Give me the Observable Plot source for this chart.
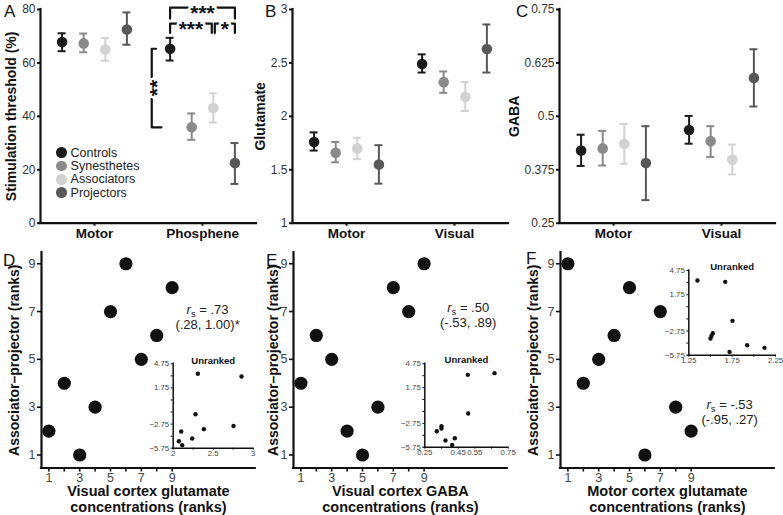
<!DOCTYPE html>
<html><head><meta charset="utf-8">
<script src="https://cdn.jsdelivr.net/npm/d3@7"></script>
<script src="https://cdn.jsdelivr.net/npm/@observablehq/plot@0.6"></script>
<style>
body{margin:0;background:#fff;}
#fig{position:relative;width:783px;height:515px;overflow:hidden;font-family:"Liberation Sans",Arial,sans-serif;background:#fff;}
#fig svg{position:absolute;overflow:visible;}
.letter{position:absolute;font-size:17px;line-height:1;color:#111;}
.legend{position:absolute;left:56px;top:146px;font-size:12.5px;color:#222;}
.legend .row{height:13.3px;display:flex;align-items:center;white-space:nowrap;}
.legend .sw{width:10.6px;height:10.6px;border-radius:50%;margin-right:4px;display:inline-block;}
</style></head><body><div id="fig"></div>
<script>
// ---------- data ----------
const groups = ["Controls", "Synesthetes", "Associators", "Projectors"];
const groupColors = ["#1b1b1b", "#8a8a8a", "#d2d2d2", "#585858"];
const groupOffsets = [-0.3, -0.1, 0.1, 0.3];

// Panel A: stimulation threshold (%), per group [mean, low, high]
const thrConditions = ["Motor", "Phosphene"];
const thrMotor = [[67.8, 64.4, 71.1], [67.3, 64.0, 71.0], [65.0, 60.8, 69.3], [72.5, 66.8, 78.9]];
const thrPhosphene = [[65.3, 60.9, 69.4], [35.9, 31.2, 41.1], [43.1, 37.7, 48.6], [22.5, 14.7, 30.0]];
const thrTicks = [0, 20, 40, 60, 80];

// Panel B: glutamate
const concConditions = ["Motor", "Visual"];
const gluMotor = [[1.76, 1.68, 1.85], [1.66, 1.57, 1.76], [1.70, 1.60, 1.80], [1.55, 1.37, 1.73]];
const gluVisual = [[2.49, 2.41, 2.58], [2.32, 2.22, 2.42], [2.18, 2.05, 2.32], [2.63, 2.41, 2.86]];
const gluTicks = [1, 1.5, 2, 2.5, 3];

// Panel C: GABA
const gabaMotor = [[0.420, 0.384, 0.457], [0.425, 0.385, 0.466], [0.436, 0.389, 0.482], [0.391, 0.304, 0.477]];
const gabaVisual = [[0.468, 0.436, 0.501], [0.442, 0.405, 0.477], [0.399, 0.364, 0.434], [0.590, 0.523, 0.657]];
const gabaTicks = [0.25, 0.375, 0.5, 0.625, 0.75];

// significance annotations (Phosphene)
const sigPairs = [["Controls", "Projectors"], ["Controls", "Associators"], ["Associators", "Projectors"]];
const sigStars = ["***", "***", "*"];
const sigVerticalPair = ["Controls", "Synesthetes"];
const sigVerticalStars = "**";

// Panels D-F: ranks
const rankTicks = [1, 2, 3, 4, 5, 6, 7, 8, 9];
const rankLabeled = [1, 3, 5, 7, 9];
const rankX = [1, 2, 3, 4, 5, 6, 7, 8, 9];
const apRankD = [2, 4, 1, 3, 7, 9, 5, 6, 8];
const apRankE = [4, 6, 5, 2, 1, 3, 8, 7, 9];
const apRankF = [9, 4, 5, 6, 8, 1, 7, 3, 2];
const statD = "rs = .73\n(.28, 1.00)*";
const statE = "rs = .50\n(-.53, .89)";
const statF = "rs = -.53\n(-.95, .27)";

// insets (unranked)
const insetYTicks = [-5.75, -4.25, -2.75, -1.25, 0.25, 1.75, 3.25, 4.75];
const insetYLabeled = [4.75, 1.75, -2.75, -5.75];
const inDx = [2.308, 2.854, 2.279, 2.1, 2.383, 2.754, 2.2375, 2.071, 2.1125];
const inDy = [3.51, 3.17, -1.52, -3.67, -3.38, -2.99, -4.54, -4.88, -5.37];
const inDxTicks = [2, 2.25, 2.5, 2.75, 3], inDxLabeled = [2, 2.5, 3];
const inEx = [0.508, 0.668, 0.51, 0.35, 0.35, 0.322, 0.43, 0.374, 0.414];
const inEy = [3.36, 3.57, -1.51, -3.11, -3.4, -3.74, -4.62, -4.91, -5.46];
const inExTicks = [0.25, 0.35, 0.45, 0.55, 0.65, 0.75], inExLabeled = [0.25, 0.45, 0.55, 0.75];
const inFx = [1.35, 1.67, 1.754, 1.527, 1.512, 1.50, 1.72, 1.923, 2.123];
const inFy = [3.51, 3.34, -1.49, -3.02, -3.35, -3.68, -5.34, -4.51, -4.84];
const inFxTicks = [1.25, 1.5, 1.75, 2, 2.25], inFxLabeled = [1.25, 1.75, 2.25];

// ---------- helpers ----------
const FONT = "Liberation Sans, Arial, sans-serif";
const INK = "#111";
const fig = document.getElementById("fig");
function place(svg, left, top) {
  svg.style.left = left + "px"; svg.style.top = top + "px";
  fig.append(svg);
}
const fmtNum = d => d < 0 ? "\u2212" + Math.abs(d) : String(d);
const yTitle = (label, dx, size) => Plot.text([label], {frameAnchor: "left", rotate: -90, dx, textAnchor: "middle", lineAnchor: "middle", fontSize: size, fontWeight: "bold", fill: INK});

function groupPanel({conds, values, yDomain, yTicks, yLabel, labelX, width, marginLeft, extra = () => []}) {
  const plotW = 216;
  const xDomain = [-0.5, 1.5];
  const cap = 0.037;
  const rows = [];
  values.forEach((arr, ci) => arr.forEach((v, gi) =>
    rows.push({g: groups[gi], x: ci + groupOffsets[gi], mean: v[0], lo: v[1], hi: v[2]})));
  return Plot.plot({
    width, height: 250, marginLeft, marginRight: width - marginLeft - plotW, marginTop: 9, marginBottom: 27.3,
    style: {background: "transparent", overflow: "visible", fontFamily: FONT},
    x: {domain: xDomain, axis: null, label: null},
    y: {domain: yDomain, axis: null, label: null},
    color: {domain: groups, range: groupColors},
    marks: [
      Plot.ruleY([yDomain[0]], {x1: xDomain[0], x2: xDomain[1], stroke: INK, strokeWidth: 2.2, strokeLinecap: "square"}),
      Plot.ruleX([xDomain[0]], {y1: yDomain[0], y2: yDomain[1], stroke: INK, strokeWidth: 2.2, strokeLinecap: "square"}),
      Plot.axisY({ticks: yTicks, tickFormat: fmtNum, tickSize: 3, tickPadding: 2, fontSize: 12, stroke: INK, strokeWidth: 2, fill: "#333", label: null}),
      Plot.axisX({ticks: [0, 1], tickFormat: i => conds[i], tickSize: 3, tickPadding: 2, fontSize: 13.5, fontWeight: "bold", stroke: INK, strokeWidth: 2, fill: INK, label: null}),
      yTitle(yLabel, labelX - marginLeft, 14),
      Plot.ruleX(rows, {x: "x", y1: "lo", y2: "hi", stroke: "g", strokeWidth: 2}),
      Plot.ruleY(rows, {y: "lo", x1: d => d.x - cap, x2: d => d.x + cap, stroke: "g", strokeWidth: 2}),
      Plot.ruleY(rows, {y: "hi", x1: d => d.x - cap, x2: d => d.x + cap, stroke: "g", strokeWidth: 2}),
      Plot.dot(rows, {x: "x", y: "mean", r: 5.3, fill: "g"}),
      ...extra()
    ]
  });
}

function sigMarks() {
  const pos = g => 1 + groupOffsets[groups.indexOf(g)];
  const mean = g => thrPhosphene[groups.indexOf(g)][0];
  const levels = [80.7, 74.7, 74.7];
  const drops = [4.1, 3.5, 3.5];
  const gap = 0.014;
  const shared = (i, g) => sigPairs.some((p, j) => j !== i && levels[j] === levels[i] && p.includes(g));
  const pts = [], labels = [];
  sigPairs.forEach(([a, b], i) => {
    const x1 = pos(a) + (shared(i, a) ? gap : 0), x2 = pos(b) - (shared(i, b) ? gap : 0);
    pts.push({id: i, x: x1, y: levels[i] - drops[i]}, {id: i, x: x1, y: levels[i]},
             {id: i, x: x2, y: levels[i]}, {id: i, x: x2, y: levels[i] - drops[i]});
    labels.push({x: (x1 + x2) / 2, y: levels[i], t: sigStars[i]});
  });
  const [va, vb] = sigVerticalPair;
  const ya = mean(va), yb = mean(vb), xv = pos(va) - 0.17;
  pts.push({id: 9, x: xv + 0.04, y: ya}, {id: 9, x: xv, y: ya}, {id: 9, x: xv, y: yb}, {id: 9, x: xv + 0.09, y: yb});
  return [
    Plot.line(pts, {x: "x", y: "y", z: "id", stroke: INK, strokeWidth: 2.2}),
    Plot.text(labels, {x: "x", y: "y", text: "t", fontSize: 21, fontWeight: "bold", fill: INK, stroke: "white", strokeWidth: 5, dy: 5.5}),
    Plot.text([sigVerticalStars], {x: xv, y: (ya + yb) / 2, rotate: -90, fontSize: 21, fontWeight: "bold", fill: INK, stroke: "white", strokeWidth: 5, dx: 5.5})
  ];
}

function rankPanel({width, marginLeft, ys, xLabel, stat, statX, statY, labelX}) {
  const xDomain = [0.52, 14.4], yDomain = [0.456, 9.47];
  const pts = rankX.map((x, i) => ({x, y: ys[i]}));
  const svg = Plot.plot({
    width, height: 265, marginTop: 2, marginBottom: 47.5, marginLeft, marginRight: width - marginLeft - 213.8,
    style: {background: "transparent", overflow: "visible", fontFamily: FONT},
    x: {domain: xDomain, axis: null, label: null},
    y: {domain: yDomain, axis: null, label: null},
    marks: [
      Plot.ruleY([yDomain[0]], {x1: xDomain[0], x2: xDomain[1], stroke: INK, strokeWidth: 2.2, strokeLinecap: "square"}),
      Plot.ruleX([xDomain[0]], {y1: yDomain[0], y2: yDomain[1], stroke: INK, strokeWidth: 2.2, strokeLinecap: "square"}),
      Plot.axisY({ticks: rankLabeled, tickSize: 4, tickPadding: 2, fontSize: 12.5, stroke: INK, strokeWidth: 1.6, fill: "#444", label: null}),
      Plot.axisX({ticks: rankTicks, tickFormat: d => rankLabeled.includes(d) ? String(d) : "", tickSize: 4, tickPadding: 1, fontSize: 12.5, stroke: INK, strokeWidth: 1.6, fill: "#444", label: null}),
      Plot.dot(pts, {x: "x", y: "y", r: 6.6, fill: INK}),
      Plot.text([stat], {x: statX, y: statY, fontSize: 13, lineHeight: 1.16, fill: "#222"}),
      Plot.text([xLabel], {frameAnchor: "bottom", dy: 30.5, textAnchor: "middle", lineAnchor: "middle", fontSize: 14.5, fontWeight: "bold", lineHeight: 1.1, fill: INK}),
      yTitle("Associator\u2013projector (ranks)", labelX - marginLeft, 14)
    ]
  });
  // italic r with subscript s
  svg.querySelectorAll("tspan, text").forEach(t => {
    if (t.childElementCount === 0 && t.textContent.startsWith("rs ")) {
      const rest = t.textContent.slice(2);
      t.textContent = "";
      const ns = "http://www.w3.org/2000/svg";
      const a = document.createElementNS(ns, "tspan"); a.setAttribute("font-style", "italic"); a.textContent = "r";
      const b = document.createElementNS(ns, "tspan"); b.setAttribute("font-size", "9.5"); b.setAttribute("dy", "3"); b.textContent = "s";
      const c = document.createElementNS(ns, "tspan"); c.setAttribute("dy", "-3"); c.textContent = rest;
      t.append(a, b, c);
    }
  });
  return svg;
}

function insetPanel({width, height, mL, mR, mT, mB, xDomain, xTicks, xLabeled, xs, ys, titleDy}) {
  const yDomain = [-5.75, 4.75];
  const pts = xs.map((x, i) => ({x, y: ys[i]}));
  return Plot.plot({
    width, height, marginLeft: mL, marginRight: mR, marginTop: mT, marginBottom: mB,
    style: {background: "transparent", overflow: "visible", fontFamily: FONT},
    x: {domain: xDomain, axis: null, label: null},
    y: {domain: yDomain, axis: null, label: null},
    marks: [
      Plot.ruleY([yDomain[0]], {x1: xDomain[0], x2: xDomain[1], stroke: INK, strokeWidth: 1.5, strokeLinecap: "square"}),
      Plot.ruleX([xDomain[0]], {y1: yDomain[0], y2: yDomain[1], stroke: INK, strokeWidth: 1.5, strokeLinecap: "square"}),
      Plot.axisY({ticks: insetYTicks, tickFormat: d => insetYLabeled.includes(d) ? fmtNum(d) : "", tickSize: 2, tickPadding: 2, fontSize: 7.8, stroke: INK, strokeWidth: 1, fill: "#444", label: null}),
      Plot.axisX({ticks: xTicks, tickFormat: d => xLabeled.includes(d) ? fmtNum(d) : "", tickSize: 2, tickPadding: 0, fontSize: 7.8, stroke: INK, strokeWidth: 1, fill: "#444", label: null}),
      Plot.dot(pts, {x: "x", y: "y", r: 2.2, fill: INK}),
      Plot.text(["Unranked"], {frameAnchor: "top", lineAnchor: "middle", dy: titleDy, fontSize: 9.5, fontWeight: "bold", fill: INK})
    ]
  });
}

// ---------- panels ----------
place(groupPanel({conds: thrConditions, values: [thrMotor, thrPhosphene], yDomain: [0, 80], yTicks: thrTicks,
  yLabel: "Stimulation threshold (%)", labelX: 11, width: 260, marginLeft: 40, extra: sigMarks}), 0, 0);
place(groupPanel({conds: concConditions, values: [gluMotor, gluVisual], yDomain: [1, 3], yTicks: gluTicks,
  yLabel: "Glutamate", labelX: 10, width: 262, marginLeft: 42}), 250, 0);
place(groupPanel({conds: concConditions, values: [gabaMotor, gabaVisual], yDomain: [0.25, 0.75], yTicks: gabaTicks,
  yLabel: "GABA", labelX: 9.5, width: 278, marginLeft: 54}), 505, 0);

place(rankPanel({width: 260, marginLeft: 41, ys: apRankD, xLabel: "Visual cortex glutamate\nconcentrations (ranks)",
  stat: statD, statX: 11.3, statY: 6.8, labelX: 14}), 0, 250);
place(rankPanel({width: 260, marginLeft: 33, ys: apRankE, xLabel: "Visual cortex GABA\nconcentrations (ranks)",
  stat: statE, statX: 11.86, statY: 6.85, labelX: 13.3}), 260, 250);
place(rankPanel({width: 263, marginLeft: 40, ys: apRankF, xLabel: "Motor cortex glutamate\nconcentrations (ranks)",
  stat: statF, statX: 11.5, statY: 2.81, labelX: 12.7}), 520, 250);

place(insetPanel({width: 118, height: 110, mL: 32.7, mR: 5.3, mT: 13.3, mB: 12.3, xDomain: [2, 3],
  xTicks: inDxTicks, xLabeled: inDxLabeled, xs: inDx, ys: inDy, titleDy: -3}), 140, 350);
place(insetPanel({width: 122, height: 110, mL: 29.3, mR: 9.3, mT: 13.3, mB: 13.3, xDomain: [0.25, 0.75],
  xTicks: inExTicks, xLabeled: inExLabeled, xs: inEx, ys: inEy, titleDy: -4}), 395, 350);
place(insetPanel({width: 128, height: 110, mL: 33.3, mR: 8, mT: 12, mB: 13.3, xDomain: [1.25, 2.25],
  xTicks: inFxTicks, xLabeled: inFxLabeled, xs: inFx, ys: inFy, titleDy: -3.3}), 655, 258);

// ---------- legend ----------
const legend = document.createElement("div");
legend.className = "legend";
groups.forEach((g, i) => {
  const row = document.createElement("div"); row.className = "row";
  const sw = document.createElement("span"); sw.className = "sw"; sw.style.background = groupColors[i];
  row.append(sw, document.createTextNode(g));
  legend.append(row);
});
fig.append(legend);

// ---------- panel letters ----------
const panelLetters = ["A", "B", "C", "D", "E", "F"];
const letterPos = [[4, 3], [265, 3], [516, 3], [3, 252], [266, 252], [526, 250]];
panelLetters.forEach((L, i) => {
  const d = document.createElement("div"); d.className = "letter"; d.textContent = L;
  d.style.left = letterPos[i][0] + "px"; d.style.top = letterPos[i][1] + "px";
  fig.append(d);
});
</script></body></html>
